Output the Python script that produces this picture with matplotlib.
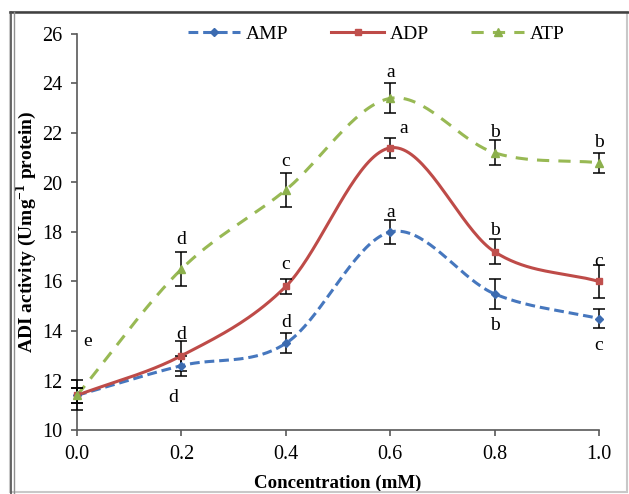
import numpy as np
import matplotlib
matplotlib.use("Agg")
import matplotlib.pyplot as plt
from matplotlib.patches import Rectangle
from matplotlib.lines import Line2D

plt.rcParams['font.family'] = ['Liberation Serif', 'DejaVu Serif']
plt.rcParams['mathtext.fontset'] = 'custom'
plt.rcParams['mathtext.rm'] = 'Liberation Serif'
plt.rcParams['mathtext.bf'] = 'Liberation Serif:bold'

conc = [0.0, 0.2, 0.4, 0.6, 0.8, 1.0]
amp = [11.4, 12.6, 13.5, 18.0, 15.5, 14.5]
amp_err = [0.3, 0.4, 0.4, 0.5, 0.6, 0.38]
adp = [11.4, 13.0, 15.8, 21.4, 17.2, 16.0]
adp_err = [0.3, 0.6, 0.3, 0.4, 0.5, 0.65]
atp = [11.4, 16.5, 19.7, 23.4, 21.2, 20.8]
atp_err = [0.6, 0.7, 0.7, 0.6, 0.5, 0.4]
amp_letters = ['', 'd', 'd', 'a', 'b', 'c']
adp_letters = ['', 'd', 'c', 'a', 'b', 'c']
atp_letters = ['e', 'd', 'c', 'a', 'b', 'b']
xticks = [0.0, 0.2, 0.4, 0.6, 0.8, 1.0]
yticks = [10, 12, 14, 16, 18, 20, 22, 24, 26]


def smooth(x, y, n=40, t=0.5):
    x = np.asarray(x, float); y = np.asarray(y, float)
    px = np.concatenate([[2*x[0]-x[1]], x, [2*x[-1]-x[-2]]])
    py = np.concatenate([[2*y[0]-y[1]], y, [2*y[-1]-y[-2]]])
    xs, ys = [], []
    for i in range(1, len(px)-2):
        p0, p1, p2, p3 = [np.array([px[j], py[j]]) for j in (i-1, i, i+1, i+2)]
        m1 = t * (p2 - p0)
        m2 = t * (p3 - p1)
        s = np.linspace(0, 1, n)
        h00 = 2*s**3 - 3*s**2 + 1
        h10 = s**3 - 2*s**2 + s
        h01 = -2*s**3 + 3*s**2
        h11 = s**3 - s**2
        pts = np.outer(h00, p1) + np.outer(h10, m1) + np.outer(h01, p2) + np.outer(h11, m2)
        xs.extend(pts[:, 0]); ys.extend(pts[:, 1])
    return np.array(xs), np.array(ys)


fig = plt.figure(figsize=(6.29, 4.94), dpi=100)
ax = fig.add_axes([77/629, 64/494, 522/629, 396/494])

c_amp, c_adp, c_atp = '#4677BE', '#BE4B48', '#98B954'
m_amp, m_adp, m_atp = '#3C6BB0', '#C0504D', '#8CB04C'

series = [
    (amp, amp_err, c_amp, m_amp, 'D', (0, (3.2, 1.6)), 'AMP', 4.5),
    (adp, adp_err, c_adp, m_adp, 's', '-', 'ADP', 5),
    (atp, atp_err, c_atp, m_atp, '^', (0, (4, 3)), 'ATP', 6),
]
handles = []
for y, e, c, mc, mk, ls, lab, ms in series:
    sx, sy = smooth(conc, y)
    ax.plot(sx, sy, color=c, lw=2.2, ls=ls, zorder=2, clip_on=False)
    ax.errorbar(conc, y, yerr=e, fmt='none', ecolor='black', elinewidth=1.1,
                capsize=4, capthick=1.1, zorder=3, clip_on=False)
    ax.plot(conc, y, ls='none', marker=mk, ms=ms, mfc=mc, mec=mc, zorder=4, clip_on=False)
    handles.append(Line2D([], [], color=c, lw=2.2, ls=ls, marker=mk, ms=ms, mfc=mc, mec=mc))

fs = 14
# letters
amp_pos = [None, (0.184, 11.33), (0.4, 14.36), (0.6, 18.8), (0.8, 14.24), (1.0, 13.43)]
adp_pos = [None, (0.2, 13.84), (0.4, 16.67), (0.625, 22.2), (0.8, 18.08), (1.0, 16.8)]
atp_pos = [(0.021, 13.56), (0.2, 17.68), (0.4, 20.83), (0.6, 24.46), (0.8, 22.0), (1.0, 21.6)]
for letters, pos in [(amp_letters, amp_pos), (adp_letters, adp_pos), (atp_letters, atp_pos)]:
    for l, p in zip(letters, pos):
        if l and p:
            ax.text(p[0], p[1], l, ha='center', va='center', fontsize=fs, color='black')

ax.set_xlim(0, 1.0)
ax.set_ylim(10, 26)
ax.set_xticks(xticks)
ax.set_xticklabels([f'{v:.1f}' for v in xticks])
ax.set_yticks(yticks)
for s in ['top', 'right']:
    ax.spines[s].set_visible(False)
for s in ['left', 'bottom']:
    ax.spines[s].set_color('#595959')
    ax.spines[s].set_linewidth(1.2)
ax.tick_params(axis='both', direction='out', length=4.5, width=1.2, color='#595959',
               labelsize=14.5, pad=6)
ax.set_xlabel('Concentration (mM)', fontsize=13.6, fontweight='bold', labelpad=8)
ax.set_ylabel(r'ADI activity (Umg$^{\mathbf{-1}}$ protein)', fontsize=fs, fontweight='bold', labelpad=2)

leg = ax.legend(handles, ['AMP', 'ADP', 'ATP'], loc='center', bbox_to_anchor=(0.573, 1.0),
                ncol=3, frameon=False, fontsize=fs, handlelength=2.7, columnspacing=2.2,
                handletextpad=0.3)

# figure border
fig.patches.append(Rectangle((10/629, 2/494), 617/629, 480/494, transform=fig.transFigure,
                             fill=False, ec='#C8C8C8', lw=1.5))
fig.add_artist(Line2D([10/629, 1], [482/494, 482/494], transform=fig.transFigure, color='#404040', lw=1.8))
fig.add_artist(Line2D([11/629, 11/629], [0, 482/494], transform=fig.transFigure, color='#505050', lw=1.2))
fig.add_artist(Line2D([14/629, 14/629], [0, 482/494], transform=fig.transFigure, color='#909090', lw=1.0))

fig.savefig('out.png', dpi=100)
